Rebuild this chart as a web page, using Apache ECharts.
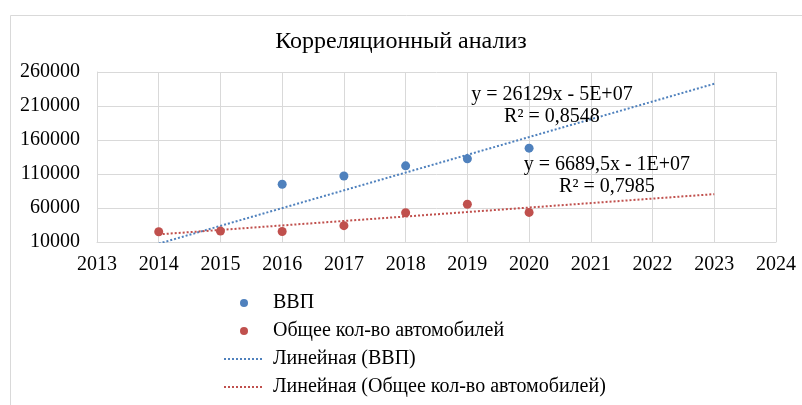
<!DOCTYPE html>
<html>
<head>
<meta charset="utf-8">
<script src="https://cdn.jsdelivr.net/npm/echarts@6/dist/echarts.min.js"></script>
<style>
html,body{margin:0;padding:0;background:#fff;}
#chart{width:802px;height:405px;}
</style>
</head>
<body>
<div id="chart"></div>
<script>
// ---- data ----
var years = [2014, 2015, 2016, 2017, 2018, 2019, 2020];
var gdpYears = [2016, 2017, 2018, 2019, 2020];
var gdpValues = [95000, 107000, 122000, 132500, 148000];
var carValues = [25000, 26000, 25500, 34000, 53000, 65500, 53500];
var trendYears = [2014, 2023];
var gdpTrend = [7600, 242700];
var carTrend = [21200, 80400];
var seriesNames = ['ВВП', 'Общее кол-во автомобилей', 'Линейная (ВВП)', 'Линейная (Общее кол-во автомобилей)'];
var gdpEquation = ['y = 26129x - 5E+07', 'R² = 0,8548'];
var carEquation = ['y = 6689,5x - 1E+07', 'R² = 0,7985'];
var titleText = 'Корреляционный анализ';

function pairs(xs, ys) { return xs.map(function (x, i) { return [x, ys[i]]; }); }
function plain(v) { return String(v); }

var FONT = 'Liberation Serif';
var BLUE = '#4F81BD', RED = '#C0504D', GRID = '#d9d9d9';

var chart = echarts.init(document.getElementById('chart'), null, {renderer: 'canvas'});
chart.setOption({
  animation: false,
  textStyle: {fontFamily: FONT},
  title: {
    text: titleText, left: 'center', top: 30, padding: 0,
    textStyle: {fontFamily: FONT, fontSize: 24, fontWeight: 'normal', color: '#000'}
  },
  graphic: [{
    type: 'rect', left: 8, top: 13, silent: true, z: -1,
    shape: {width: 900, height: 500},
    style: {fill: 'none', stroke: GRID, lineWidth: 1}
  }],
  grid: {left: 97, right: 26, top: 72, bottom: 163, containLabel: false},
  xAxis: {
    type: 'value', min: 2013, max: 2024, interval: 1,
    axisLine: {show: true, lineStyle: {color: GRID}},
    axisTick: {show: false},
    splitLine: {show: true, lineStyle: {color: GRID}},
    axisLabel: {fontFamily: FONT, fontSize: 20, color: '#000', margin: 13, formatter: plain}
  },
  yAxis: {
    type: 'value', min: 10000, max: 260000, interval: 50000,
    axisLine: {show: true, lineStyle: {color: GRID}},
    axisTick: {show: false},
    splitLine: {show: true, lineStyle: {color: GRID}},
    axisLabel: {fontFamily: FONT, fontSize: 20, color: '#000', margin: 17, formatter: plain}
  },
  legend: {
    orient: 'vertical', left: 218, top: 288,
    itemWidth: 40, itemHeight: 8, itemGap: 8,
    textStyle: {fontFamily: FONT, fontSize: 20, color: '#000', padding: [0, 0, 0, 4]},
    data: [
      {name: seriesNames[0], icon: 'circle'},
      {name: seriesNames[1], icon: 'circle'},
      {name: seriesNames[2], itemStyle: {opacity: 0}},
      {name: seriesNames[3], itemStyle: {opacity: 0}}
    ]
  },
  series: [
    {
      name: seriesNames[0], type: 'scatter', symbol: 'circle', symbolSize: 9,
      itemStyle: {color: BLUE, opacity: 1}, data: pairs(gdpYears, gdpValues), z: 3
    },
    {
      name: seriesNames[1], type: 'scatter', symbol: 'circle', symbolSize: 9,
      itemStyle: {color: RED, opacity: 1}, data: pairs(years, carValues), z: 3
    },
    {
      name: seriesNames[2], type: 'line', showSymbol: false, symbol: 'none',
      clip: true, itemStyle: {color: BLUE},
      lineStyle: {color: BLUE, width: 2, type: [2, 2]},
      data: pairs(trendYears, gdpTrend),
      markPoint: {
        symbol: 'circle', symbolSize: 0, silent: true,
        label: {
          show: true, position: 'inside', formatter: gdpEquation.join('\n'),
          fontFamily: FONT, fontSize: 20, color: '#000', lineHeight: 22, align: 'center'
        },
        data: [{coord: [2020.37, 210000]}]
      }
    },
    {
      name: seriesNames[3], type: 'line', showSymbol: false, symbol: 'none',
      clip: true, itemStyle: {color: RED},
      lineStyle: {color: RED, width: 2, type: [2, 2]},
      data: pairs(trendYears, carTrend),
      markPoint: {
        symbol: 'circle', symbolSize: 0, silent: true,
        label: {
          show: true, position: 'inside', formatter: carEquation.join('\n'),
          fontFamily: FONT, fontSize: 20, color: '#000', lineHeight: 22, align: 'center'
        },
        data: [{coord: [2021.26, 107000]}]
      }
    }
  ]
});
</script>
</body>
</html>
